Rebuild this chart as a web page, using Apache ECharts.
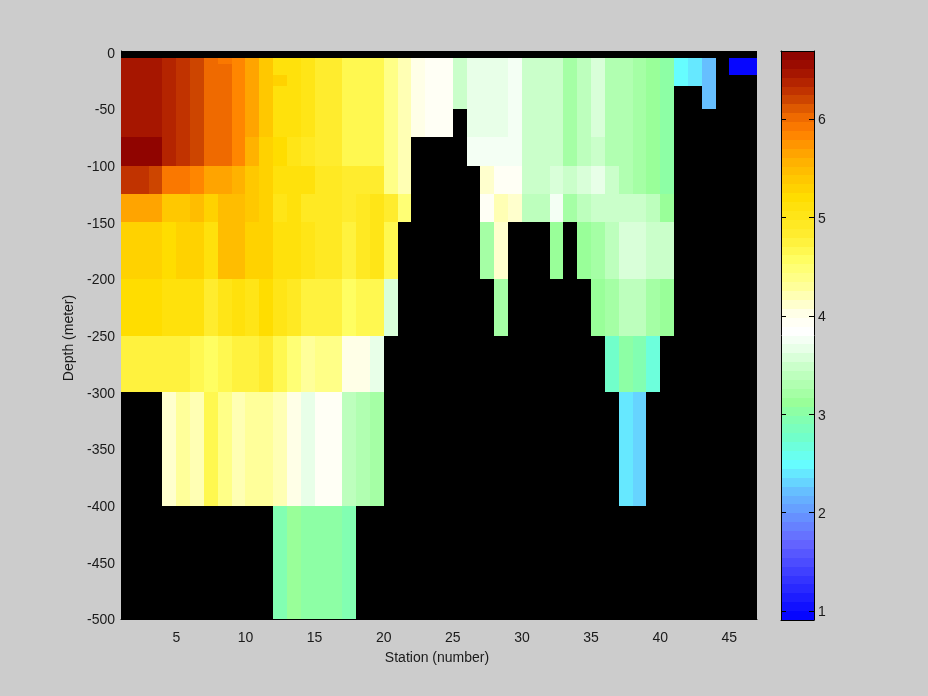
<!DOCTYPE html>
<html><head><meta charset="utf-8">
<style>html,body{margin:0;padding:0;background:#ccc}#c{width:928px;height:696px}</style>
<script src="https://cdn.jsdelivr.net/npm/echarts@6/dist/echarts.min.js"></script>
</head><body><div id="c"></div>
<script>
const _ = null;
const stationEdges = [1,2,3,4,5,6,7,8,9,10,11,12,13,14,15,16,17,18,19,20,21,22,23,24,25,26,27,28,29,30,31,32,33,34,35,36,37,38,39,40,41,42,43,44,45,46,47];
const depthEdges = [-5,-10,-20,-30,-50,-75,-100,-125,-150,-200,-250,-300,-400,-500];
const stationTicks = [5,10,15,20,25,30,35,40,45];
const depthTicks = [0,-50,-100,-150,-200,-250,-300,-350,-400,-450,-500];
const colorbarTicks = [1,2,3,4,5,6];

const row5to10 = [
6.5,6.5,6.5,6.4,6.3,6.2,6.05,5.9,5.85,5.65,
5.42,5.15,5.15,5.05,4.85,4.85,4.65,4.65,4.65,4.4,
4.2,4.05,3.95,3.95,3.5,3.7,3.7,3.7,3.8,3.45,
3.45,3.45,3.25,3.4,3.6,3.3,3.3,3.25,3.12,3.0,
2.5,2.4,2.2,_,.95,.95];
const row10to20 = [
6.5,6.5,6.5,6.4,6.3,6.2,6.05,5.98,5.85,5.65,
5.42,5.15,5.15,5.05,4.85,4.85,4.65,4.65,4.65,4.4,
4.2,4.05,3.95,3.95,3.5,3.7,3.7,3.7,3.8,3.45,
3.45,3.45,3.25,3.4,3.6,3.3,3.3,3.25,3.12,3.0,
2.5,2.4,2.2,_,.95,.95];
const row20to30 = [
6.5,6.5,6.5,6.4,6.3,6.2,6.05,5.98,5.85,5.65,
5.42,5.25,5.15,5.05,4.85,4.85,4.65,4.65,4.65,4.4,
4.2,4.05,3.95,3.95,3.5,3.7,3.7,3.7,3.8,3.45,
3.45,3.45,3.25,3.4,3.6,3.3,3.3,3.25,3.12,3.0,
2.5,2.4,2.2,_,_,_];
const row30to50 = [
6.5,6.5,6.5,6.4,6.3,6.2,6.05,5.98,5.85,5.65,
5.42,5.15,5.15,5.05,4.85,4.85,4.65,4.65,4.65,4.4,
4.2,4.05,3.95,3.95,3.5,3.7,3.7,3.7,3.8,3.45,
3.45,3.45,3.25,3.4,3.6,3.3,3.3,3.25,3.12,3.0,
_,_,2.2,_,_,_];
const row50to75 = [
6.5,6.5,6.5,6.4,6.3,6.2,6.05,5.98,5.85,5.65,
5.42,5.15,5.15,5.05,4.85,4.85,4.65,4.65,4.65,4.4,
4.2,4.05,3.95,3.95,_,3.7,3.7,3.7,3.8,3.45,
3.45,3.45,3.25,3.4,3.6,3.3,3.3,3.25,3.12,3.0,
_,_,_,_,_,_];
const row75to100 = [
6.65,6.65,6.65,6.4,6.3,6.2,6.05,5.98,5.85,5.55,
5.32,5.2,5.05,4.9,4.85,4.85,4.65,4.65,4.65,4.4,
4.2,_,_,_,_,3.8,3.8,3.72,3.8,3.45,
3.45,3.45,3.25,3.4,3.5,3.3,3.3,3.25,3.12,3.0,
_,_,_,_,_,_];
const row100to125 = [
6.27,6.27,6.15,5.9,5.9,5.82,5.65,5.65,5.55,5.37,
5.25,5.08,5.08,5.08,4.95,4.95,4.8,4.8,4.8,4.4,
4.25,_,_,_,_,_,4.12,3.95,3.95,3.5,
3.5,3.6,3.5,3.55,3.62,3.48,3.32,3.25,3.12,3.0,
_,_,_,_,_,_];
const row125to150 = [
5.65,5.65,5.65,5.37,5.37,5.48,5.25,5.45,5.45,5.4,
5.32,5.0,5.12,4.97,4.97,4.97,4.82,4.93,5.05,4.8,
4.45,_,_,_,_,_,3.95,4.18,4.12,3.42,
3.42,3.72,3.25,3.42,3.52,3.45,3.45,3.45,3.38,3.15,
_,_,_,_,_,_];
const row150to200 = [
5.32,5.32,5.32,5.22,5.32,5.32,5.15,5.45,5.45,5.32,
5.32,5.08,5.12,5.05,4.97,4.97,4.75,4.93,5.05,4.65,
_,_,_,_,_,_,3.25,4.12,_,_,
_,3.1,_,3.12,3.22,3.42,3.55,3.55,3.45,3.45,
_,_,_,_,_,_];
const row200to250 = [
5.2,5.2,5.2,5.15,5.15,5.08,4.87,5.05,5.12,5.05,
5.18,5.03,4.97,4.75,4.75,4.75,4.55,4.65,4.65,3.6,
_,_,_,_,_,_,_,3.25,_,_,
_,_,_,_,3.15,3.2,3.42,3.42,3.25,3.1,
_,_,_,_,_,_];
const row250to300 = [
4.75,4.75,4.75,4.75,4.75,4.7,4.58,4.65,4.75,4.75,
4.85,4.67,4.5,4.3,4.38,4.38,4.05,4.05,3.7,_,
_,_,_,_,_,_,_,_,_,_,
_,_,_,_,_,2.75,3.05,2.97,2.7,_,
_,_,_,_,_,_];
const row300to400 = [
_,_,_,4.12,4.3,4.2,4.65,4.4,4.25,4.32,
4.32,4.22,4.0,3.7,3.92,3.92,3.4,3.3,3.22,_,
_,_,_,_,_,_,_,_,_,_,
_,_,_,_,_,_,2.4,2.32,_,_,
_,_,_,_,_,_];
const row400to500 = [
_,_,_,_,_,_,_,_,_,_,
_,2.95,3.1,3.05,3.0,3.0,2.9,_,_,_,
_,_,_,_,_,_,_,_,_,_,
_,_,_,_,_,_,_,_,_,_,
_,_,_,_,_,_];
const rows = [row5to10,row10to20,row20to30,row30to50,row50to75,row75to100,row100to125,row125to150,row150to200,row200to250,row250to300,row300to400,row400to500];

const cMin = 0.91, cMax = 6.69, cLevels = 64;
const stopValues = [0.91,1.7,2.0,2.2,2.5,2.75,3.0,3.12,3.25,3.45,3.7,3.85,4.0,4.3,4.55,4.8,5.2,5.55,5.87,5.98,6.05,6.2,6.3,6.5,6.69];
const stopColors = ['#0000ff','#6666ff','#6699ff','#66bbff','#66ffff','#70ffcc','#88ffaa','#99ff99','#aaffaa','#c4ffc4','#eeffee','#ffffff','#ffffee','#ffff99','#ffff66','#ffee33','#ffdd00','#ffb400','#ff8000','#f57000','#e86400','#cc4400','#bf3000','#a01000','#8b0000'];
function hex(c){return [1,3,5].map(i=>parseInt(c.substr(i,2),16));}
function lookup(v){
  let i=0; while(i<stopValues.length-2 && v>stopValues[i+1]) i++;
  let t=Math.max(0,Math.min(1,(v-stopValues[i])/(stopValues[i+1]-stopValues[i])));
  let a=hex(stopColors[i]),b=hex(stopColors[i+1]);
  return 'rgb('+a.map((x,k)=>Math.round(x+(b[k]-x)*t)).join(',')+')';
}
function levelOf(v){return Math.max(0,Math.min(cLevels-1,Math.floor((v-cMin)/(cMax-cMin)*cLevels)));}
function levelValue(l){return cMin+(l+0.5)*(cMax-cMin)/cLevels;}
function colorOf(v){return lookup(levelValue(levelOf(v)));}

const cells = [];
rows.forEach((r,j)=>r.forEach((v,i)=>{ if(v!==null) cells.push([stationEdges[i],stationEdges[i+1],depthEdges[j],depthEdges[j+1],v]); }));
const bands = [];
for(let l=0;l<cLevels;l++){ bands.push([0,1,cMin+l*(cMax-cMin)/cLevels,cMin+(l+1)*(cMax-cMin)/cLevels,levelValue(l)]); }

function renderRect(p,api){
  const a=api.coord([api.value(0),api.value(2)]), b=api.coord([api.value(1),api.value(3)]);
  const x0=Math.round(a[0]),x1=Math.round(b[0]),y0=Math.round(a[1]),y1=Math.round(b[1]);
  return {type:'rect',shape:{x:x0,y:y0,width:x1-x0,height:y1-y0},style:{fill:colorOf(api.value(4)),stroke:null}};
}
const font='"Liberation Sans", Arial, sans-serif';
const txt={color:'#1a1a1a',fontFamily:font,fontSize:14};
const shifted={formatter:'{s|{value}}',rich:{s:Object.assign({padding:[3,0,0,0]},txt)}};
const line={show:true,onZero:false,lineStyle:{color:'#000'}};
const chart=echarts.init(document.getElementById('c'),null,{renderer:'canvas'});
chart.setOption({
  animation:false,
  backgroundColor:'#cccccc',
  grid:[
    {left:121,top:51,width:636,height:568,show:true,backgroundColor:'#000',borderWidth:0},
    {left:781,top:51,width:33,height:569,show:true,backgroundColor:'#000',borderWidth:0}
  ],
  xAxis:[
    {gridIndex:0,type:'value',min:1,max:47,name:'Station (number)',nameLocation:'middle',nameGap:32,
     nameTextStyle:Object.assign({padding:[0,4,0,0]},txt),
     axisLine:line,axisTick:{show:false},splitLine:{show:false},
     axisLabel:Object.assign({customValues:stationTicks,margin:12},txt)},
    {gridIndex:1,type:'value',position:'top',min:0,max:1,splitLine:{show:false},z:10,
     axisLine:line,axisTick:{show:false},axisLabel:{show:false}},
    {gridIndex:1,type:'value',position:'bottom',min:0,max:1,splitLine:{show:false},z:10,
     axisLine:line,axisTick:{show:false},axisLabel:{show:false}}
  ],
  yAxis:[
    {gridIndex:0,type:'value',min:-500,max:1.2,name:'Depth (meter)',nameLocation:'middle',nameGap:38,
     nameTextStyle:Object.assign({padding:[0,6,0,0]},txt),
     axisLine:line,axisTick:{show:false},splitLine:{show:false},
     axisLabel:Object.assign({customValues:depthTicks,margin:6},txt,shifted)},
    {gridIndex:1,type:'value',position:'right',min:cMin,max:cMax,splitLine:{show:false},z:10,
     axisLine:line,
     axisTick:{show:true,inside:true,length:5,customValues:colorbarTicks,lineStyle:{color:'#000'}},
     axisLabel:Object.assign({customValues:colorbarTicks,margin:4},txt,shifted)},
    {gridIndex:1,type:'value',position:'left',min:cMin,max:cMax,splitLine:{show:false},z:10,
     axisLine:line,
     axisTick:{show:true,inside:true,length:5,customValues:colorbarTicks,lineStyle:{color:'#000'}},
     axisLabel:{show:false}}
  ],
  series:[
    {type:'custom',coordinateSystem:'cartesian2d',xAxisIndex:0,yAxisIndex:0,data:cells,renderItem:renderRect,encode:{x:[0,1],y:[2,3]},clip:true,silent:true},
    {type:'custom',coordinateSystem:'cartesian2d',xAxisIndex:1,yAxisIndex:1,data:bands,renderItem:renderRect,encode:{x:[0,1],y:[2,3]},silent:true}
  ]
});
</script></body></html>
